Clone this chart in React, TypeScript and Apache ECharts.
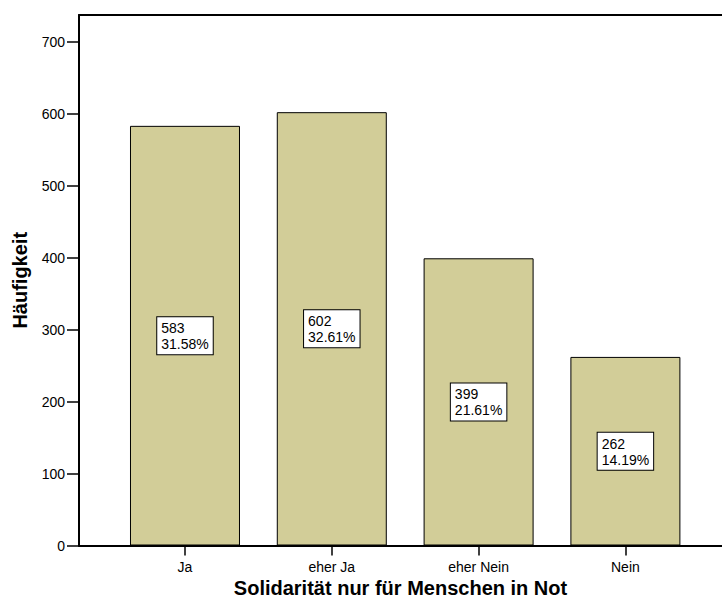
import React, { useEffect, useRef } from "react";
import * as echarts from "echarts";

const categories = ["Ja", "eher Ja", "eher Nein", "Nein"];
const counts = [583, 602, 399, 262];
const yTicks = [0, 100, 200, 300, 400, 500, 600, 700];
const categoryPositions = [0, 1, 2, 3];

const FONT = "'Liberation Sans', Arial, sans-serif";

export default function App() {
  const ref = useRef<HTMLDivElement>(null);
  useEffect(() => {
    if (!ref.current) return;
    const chart = echarts.init(ref.current, null, { renderer: "svg" });
    const total = counts.reduce((a, b) => a + b, 0);
    const percents = counts.map((c) => ((c / total) * 100).toFixed(2) + "%");
    const xMin = -0.722;
    const xMax = 3.658;
    chart.setOption({
      animation: false,
      backgroundColor: "#ffffff",
      grid: {
        left: 79,
        right: 0,
        top: 15,
        bottom: 60.5,
        containLabel: false,
        outerBoundsMode: "none",
      },
      xAxis: [
        {
          type: "value",
          min: xMin,
          max: xMax,
          position: "bottom",
          name: "Solidarität nur für Menschen in Not",
          nameLocation: "middle",
          nameGap: 30,
          nameTextStyle: {
            fontFamily: FONT,
            fontSize: 20,
            fontWeight: "bold",
            color: "#000",
          },
          axisLine: {
            show: true,
            onZero: false,
            lineStyle: { color: "#000", width: 2 },
          },
          axisTick: {
            show: true,
            length: 10,
            customValues: categoryPositions,
            lineStyle: { color: "#000", width: 1.5 },
          },
          axisLabel: {
            show: true,
            customValues: categoryPositions,
            formatter: (v: number) => categories[Math.round(v)] ?? "",
            margin: 14,
            fontFamily: FONT,
            fontSize: 14,
            color: "#000",
          },
          splitLine: { show: false },
        },
        {
          type: "value",
          min: xMin,
          max: xMax,
          position: "top",
          axisLine: {
            show: true,
            onZero: false,
            lineStyle: { color: "#000", width: 2 },
          },
          axisTick: { show: false },
          axisLabel: { show: false },
          splitLine: { show: false },
        },
      ],
      yAxis: {
        type: "value",
        min: 0,
        max: 737,
        position: "left",
        name: "Häufigkeit",
        nameLocation: "middle",
        nameGap: 49,
        nameTextStyle: {
          fontFamily: FONT,
          fontSize: 20,
          fontWeight: "bold",
          color: "#000",
        },
        axisLine: {
          show: true,
          onZero: false,
          lineStyle: { color: "#000", width: 2 },
        },
        axisTick: {
          show: true,
          length: 12,
          customValues: yTicks,
          lineStyle: { color: "#000", width: 1.5 },
        },
        axisLabel: {
          show: true,
          customValues: yTicks,
          margin: 14,
          fontFamily: FONT,
          fontSize: 14,
          color: "#000",
        },
        splitLine: { show: false },
      },
      series: [
        {
          type: "bar",
          xAxisIndex: 0,
          yAxisIndex: 0,
          barWidth: 110,
          data: counts.map((v, i) => [categoryPositions[i], v]),
          itemStyle: {
            color: "#d2cd98",
            borderColor: "#000",
            borderWidth: 1,
          },
          label: {
            show: true,
            position: "inside",
            formatter: (p: any) =>
              `{a|${counts[p.dataIndex]}}\n{a|${percents[p.dataIndex]}}`,
            backgroundColor: "#ffffff",
            borderColor: "#000",
            borderWidth: 1,
            padding: [3, 4, 2, 4],
            rich: {
              a: {
                align: "left",
                fontFamily: FONT,
                fontSize: 14,
                lineHeight: 16,
                color: "#000",
              },
            },
          },
        },
      ],
    });
    return () => chart.dispose();
  }, []);
  return (
    <div
      ref={ref}
      style={{ position: "fixed", left: 0, top: 0, width: 722, height: 606 }}
    />
  );
}
